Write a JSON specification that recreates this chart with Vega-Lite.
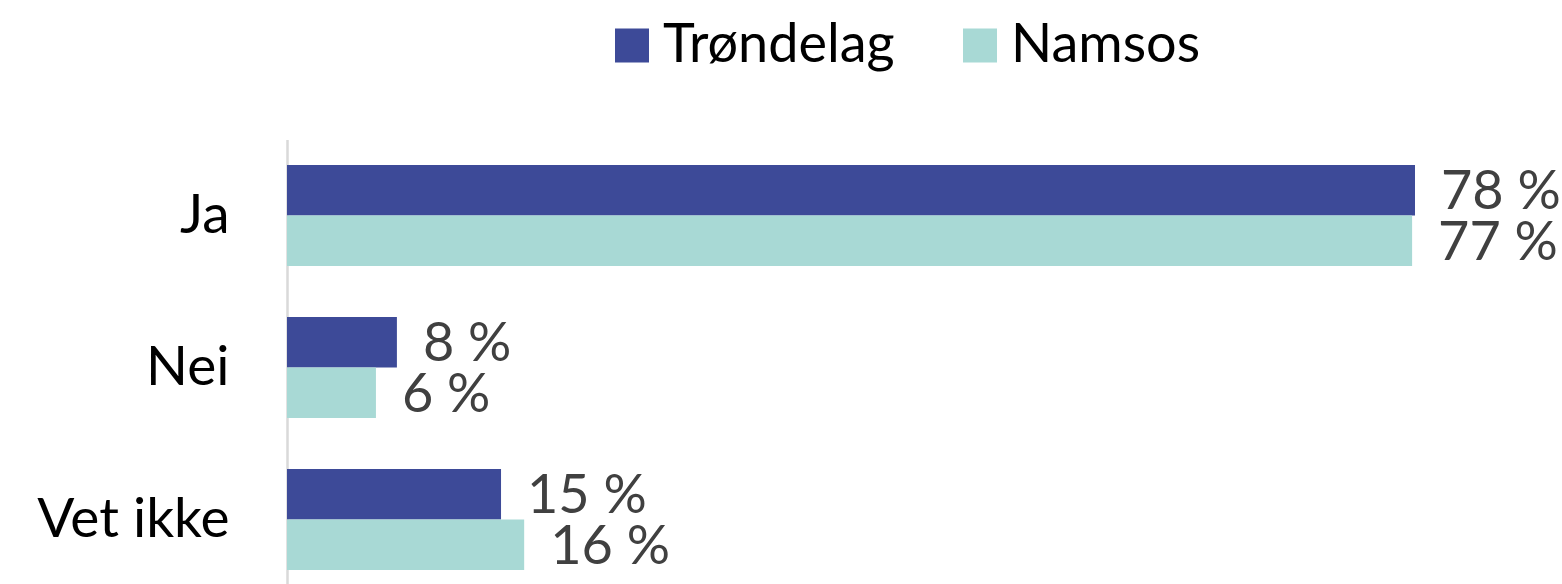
{
  "$schema": "https://vega.github.io/schema/vega-lite/v6.json",
  "width": 1128,
  "height": 456,
  "autosize": {"type": "none"},
  "padding": {"left": 287, "top": 139.5, "right": 147, "bottom": 0},
  "background": "white",
  "config": {
    "view": {"stroke": null},
    "font": "Lato",
    "axis": {"labelFont": "Lato", "titleFont": "Lato"},
    "legend": {"labelFont": "Lato"}
  },
  "data": {
    "values": [
      {"answer": "Ja", "series": "Trøndelag", "value": 78.0, "label": "78 %"},
      {"answer": "Ja", "series": "Namsos", "value": 77.8, "label": "77 %"},
      {"answer": "Nei", "series": "Trøndelag", "value": 7.6, "label": "8 %"},
      {"answer": "Nei", "series": "Namsos", "value": 6.15, "label": "6 %"},
      {"answer": "Vet ikke", "series": "Trøndelag", "value": 14.8, "label": "15 %"},
      {"answer": "Vet ikke", "series": "Namsos", "value": 16.4, "label": "16 %"}
    ]
  },
  "encoding": {
    "y": {
      "field": "answer",
      "type": "nominal",
      "sort": ["Ja", "Nei", "Vet ikke"],
      "scale": {"paddingInner": 0.335, "paddingOuter": 0.1675},
      "axis": {
        "title": null,
        "ticks": false,
        "domain": true,
        "domainColor": "#D9D9D9",
        "domainWidth": 2.5,
        "labelFontSize": 55,
        "labelColor": "#000000",
        "labelPadding": 58,
        "labelLimit": 400
      }
    },
    "yOffset": {"field": "series", "type": "nominal", "sort": ["Trøndelag", "Namsos"]},
    "x": {
      "field": "value",
      "type": "quantitative",
      "scale": {"domain": [0, 78], "nice": false, "zero": true},
      "axis": null
    }
  },
  "layer": [
    {
      "mark": {"type": "bar"},
      "encoding": {
        "color": {
          "field": "series",
          "type": "nominal",
          "sort": ["Trøndelag", "Namsos"],
          "scale": {"domain": ["Trøndelag", "Namsos"], "range": ["#3D4A98", "#A8D9D5"]},
          "legend": {
            "title": null,
            "orient": "none",
            "direction": "horizontal",
            "legendX": 318,
            "legendY": -121,
            "symbolType": "square",
            "symbolSize": 1156,
            "symbolStrokeWidth": 0,
            "labelFontSize": 54,
            "labelColor": "#000000",
            "labelOffset": 4,
            "labelLimit": 400,
            "columnPadding": 58,
            "symbolOpacity": 1
          }
        }
      }
    },
    {
      "mark": {"type": "text", "align": "left", "baseline": "middle", "dx": 26, "dy": 3, "fontSize": 54, "color": "#404040"},
      "encoding": {"text": {"field": "label", "type": "nominal"}}
    }
  ]
}
